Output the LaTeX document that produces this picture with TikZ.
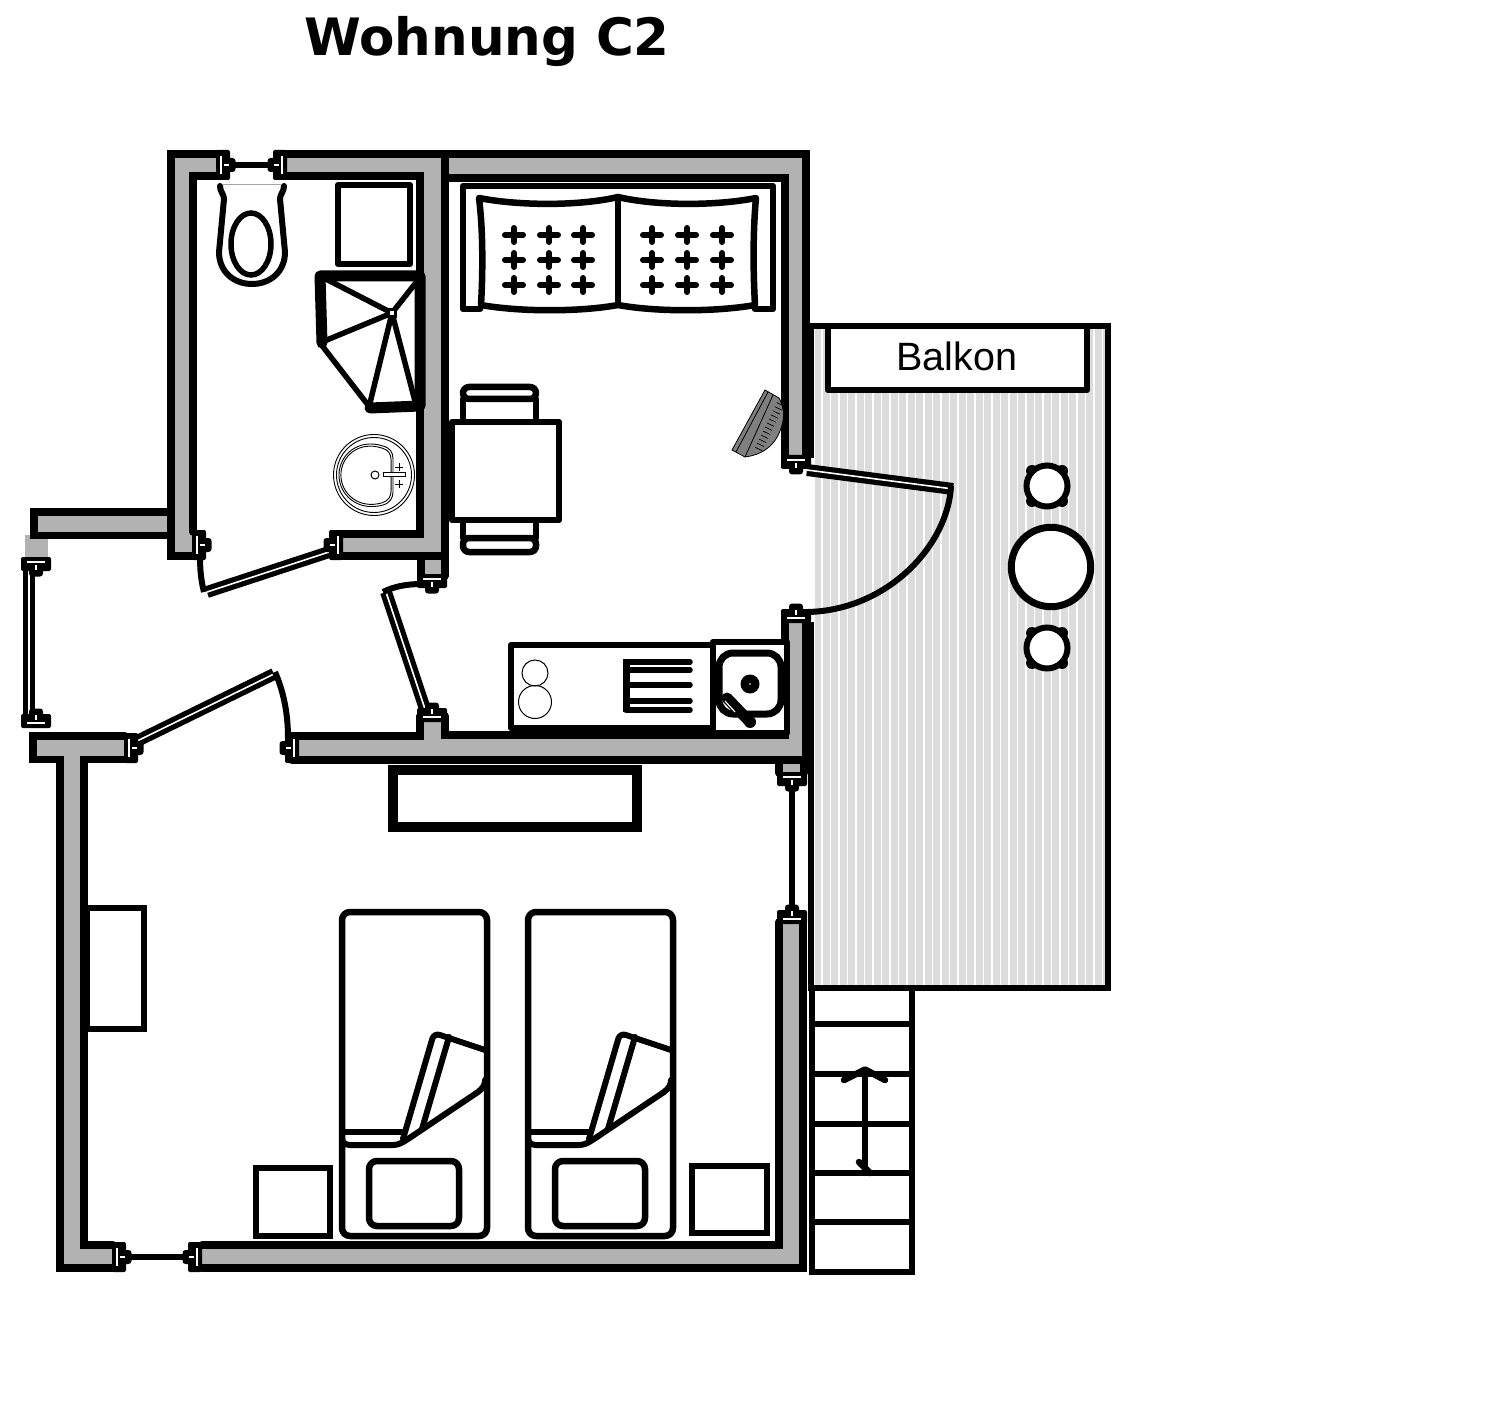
\documentclass[tikz,border=0pt]{standalone}
\usetikzlibrary{calc}
\usepackage{fontspec}
\setmainfont{Liberation Sans}
\newfontfamily\titlefont{DejaVu Sans}
\definecolor{wallgray}{HTML}{B2B2B2}
\definecolor{deckgray}{HTML}{DCDCDC}
\definecolor{heatgray}{HTML}{7F7F7F}
\tikzset{
  wall/.style={line width=7.5pt,line join=miter,line cap=round,black},
  fur/.style={line width=7pt,line join=round,line cap=round,black},
  thinl/.style={line width=0.9pt,black},
}
\newcommand{\wframe}[3]{\begin{scope}[shift={(#1,#2)},rotate=#3]
  \fill[black,rounded corners=2pt] (-15,-7) rectangle (15,7);
  \fill[white] (-9,-2.6) rectangle (9,-1);
  \fill[black,rounded corners=3pt] (-7,4) rectangle (7,12.5);
  \fill[white] (-1,1) rectangle (1,6);
\end{scope}}
\newcommand{\leaf}[4]{%
  \draw[line width=12pt,black,line cap=butt] (#1,#2) -- (#3,#4);
  \draw[line width=1.6pt,white,line cap=butt] (#1,#2) -- (#3,#4);}
\newcommand{\bedset}[1]{\begin{scope}[xshift=#1pt]
  \draw[fur,line width=6.5pt,rounded corners=8pt] (342,912) rectangle (487,1236);
  \draw[fur,line width=6.5pt,rounded corners=8pt] (369,1161) rectangle (459,1226);
  \draw[fur,line width=6pt] (342,1132) -- (402,1132);
  \draw[fur,line width=6pt] (342,1138) .. controls (342,1142) and (345,1145) .. (350,1145) -- (393,1145)
     .. controls (398,1145) and (402,1143) .. (408,1139) -- (478,1092) .. controls (483,1088) and (485,1085) .. (485,1080);
  \draw[fur,line width=6pt,rounded corners=6pt] (403,1139) -- (434,1033) -- (485,1050);
  \draw[fur,line width=6pt] (422,1129) -- (449,1037);
\end{scope}}
\newcommand{\stool}[2]{%
  \foreach \sx/\sy in {-15/-15,15/-15,-15/15,15/15}{\fill[black] (#1+\sx,#2+\sy) circle (6pt);}
  \draw[line width=6pt,fill=white] (#1,#2) circle (20.5pt);}
\newcommand{\sofaplus}[2]{%
  \draw[line width=6pt,line cap=round] (#1-9,#2) -- (#1+9,#2);
  \draw[line width=6pt,line cap=round] (#1,#2-7) -- (#1,#2+7);
  \fill (#1,#2) circle (4.5pt);}
\begin{document}
\begin{tikzpicture}[x=1pt,y=-1pt]
\useasboundingbox (0,0) rectangle (1500,1404);
\fill[white] (0,0) rectangle (1500,1404);
\node[font=\titlefont\bfseries\fontsize{51.5}{60}\selectfont,anchor=center] (title) at (487,41) {Wohnung C2};

% balcony
\fill[deckgray] (815,329) rectangle (1106,986);
\foreach \i in {0,...,33}{\draw[white,line width=1.1pt] (822+8.5*\i,329) -- (822+8.5*\i,986);}
\draw[line width=6.5pt,line join=miter] (811,458) -- (811,326) -- (1108,326) -- (1108,988) -- (811,988) -- (811,622);
\draw[fur,line width=6.5pt,fill=white] (828,326) rectangle (1087,390);
\node[font=\fontsize{39.5}{46}\selectfont] (balkon) at (957,356) {Balkon};
\draw[line width=7pt,fill=white] (1051,567) circle (39.7pt);
\stool{1047}{486}
\stool{1047}{648}

% stairs
\draw[line width=6.5pt,line join=miter] (812,988) -- (812,1272) -- (912,1272) -- (912,988);
\foreach \sy in {1024,1074,1124,1173,1222}{\draw[line width=6pt] (812,\sy) -- (912,\sy);}
\draw[line width=6.5pt,line cap=round,line join=round] (844,1080) -- (865,1069.5) -- (885,1080);
\draw[line width=6.5pt] (865,1069.5) -- (865,1170);
\draw[line width=6.5pt,line cap=round] (859,1162) -- (870,1173);

% wall fill
\fill[wallgray] (171,154) rectangle (193,556);
\fill[wallgray] (171,154) rectangle (218,177);
\fill[wallgray] (285,154) rectangle (806,177);
\fill[wallgray] (420,154) rectangle (445,556);
\fill[wallgray] (338,535) rectangle (445,556);
\fill[wallgray] (785,154) rectangle (806,458);
\fill[wallgray] (424,556) rectangle (443,576);
\fill[wallgray] (34,512) rectangle (175,535);
\fill[wallgray] (25,535) rectangle (48,560);
\fill[wallgray] (33,736) rectangle (130,760);
\fill[wallgray] (292,736) rectangle (420,760);
\fill[wallgray] (420,716) rectangle (445,760);
\fill[wallgray] (420,735) rectangle (806,760);
\fill[wallgray] (785,620) rectangle (806,760);
\fill[wallgray] (781,760) rectangle (803,773);
\fill[wallgray] (60,736) rectangle (84,1268);
\fill[wallgray] (60,1245) rectangle (115,1268);
\fill[wallgray] (195,1245) rectangle (803,1268);
\fill[wallgray] (779,918) rectangle (803,1268);

% wall lines
\draw[wall] (218,154) -- (171,154) -- (171,556) -- (193,556);
\draw[wall] (193,532) -- (193,176) -- (218,176);
\draw[wall] (285,154) -- (806,154) -- (806,458);
\draw[wall] (285,176) -- (420,176) -- (420,534) -- (338,534);
\draw[wall] (445,154) -- (445,556) -- (338,556);
\draw[wall] (445,178) -- (785,178) -- (785,458);
\draw[wall] (171,512) -- (34,512) -- (34,535.5) -- (171,535.5);
\draw[wall] (125,736) -- (33,736) -- (33,759.5) -- (60,759.5) -- (60,1268) -- (113,1268);
\draw[wall] (125,759.5) -- (84,759.5) -- (84,1245) -- (113,1245);
\draw[wall] (292,736) -- (420,736) -- (420,716);
\draw[wall] (292,760) -- (806,760) -- (806,622);
\draw[wall] (445,716) -- (445,735) -- (785,735) -- (785,622);
\draw[wall] (202,1245) -- (779,1245) -- (779,922);
\draw[wall] (202,1268) -- (803,1268) -- (803,922);
\draw[wall] (421,556) -- (421,576);
\draw[wall] (445,556) -- (445,576);
\draw[wall] (779,760) -- (779,773);
\draw[wall] (804,760) -- (804,773);

% windows
\draw[line width=5.5pt] (232,165) -- (272,165);
\wframe{223}{165}{90}
\wframe{280}{165}{-90}
\draw[line width=5.5pt] (128,1257) -- (186,1257);
\wframe{119}{1257}{90}
\wframe{195}{1257}{-90}
\draw[line width=6.5pt] (792,785) -- (792,908);
\wframe{792}{779}{0}
\wframe{792}{917}{180}
\leaf{29}{562}{29}{722}
\wframe{36}{564}{0}
\wframe{36}{721}{180}

% doors
\leaf{329}{552}{207}{592}
\draw[line width=6pt] (204,592) .. controls (201,580) and (200,570) .. (200,555);
\wframe{199}{545}{90}
\wframe{336}{545}{-90}
\leaf{386}{592}{426}{712}
\draw[line width=6pt] (383,592) .. controls (395,586) and (408,584) .. (422,584);
\wframe{432}{581}{0}
\wframe{432}{715}{180}
\leaf{133}{743}{274}{674}
\draw[line width=6pt] (275,672) .. controls (283,690) and (288,712) .. (288,738);
\wframe{131}{748}{90}
\wframe{292}{748}{-90}
\leaf{807}{470}{953}{489}
\draw[line width=6pt] (951,486) .. controls (948,545) and (888,610) .. (808,612);
\wframe{796}{462}{0}
\wframe{796}{616}{180}

% bath furniture
\draw[line width=6.5pt,line join=round] (338,185) rectangle (410,264);
\draw[line width=6pt,line join=round,line cap=round] (220,186) .. controls (220,192) and (224,194) .. (224,199) -- (219,252)
  .. controls (219,272) and (234,284) .. (252,284) .. controls (270,284) and (285,272) .. (285,252) -- (280,199) .. controls (280,194) and (284,192) .. (284,186);
\draw[line width=0.6pt,black!35] (222,184) -- (282,184);
\draw[line width=5.5pt] (251,244) ellipse (20pt and 31pt);
\draw[line width=11pt,line cap=round,line join=round] (322,343) -- (320,276) -- (420,276) -- (420,406) -- (370,408);
\draw[line width=5.5pt,line cap=round] (320,343) -- (368,405);
\foreach \ex/\ey in {322/277,418/280,322/342,370/403,416/405}{\draw[line width=5.5pt] (392,313) -- (\ex,\ey);}
\fill (387,308) rectangle (397,318);
\fill[white] (390,311) rectangle (394,315);

% washbasin
\draw[thinl,fill=white] (374,475) circle (40.5pt);
\draw[thinl] (374,475) circle (37.5pt);
\draw[thinl] (383,446) .. controls (358,438) and (339,455) .. (339,475) .. controls (339,495) and (358,512) .. (383,505) .. controls (390,503) and (393,498) .. (393,492) -- (393,459) .. controls (393,452) and (390,448) .. (383,446);
\begin{scope}[shift={(366,475)},scale=.93,shift={(-366,-475)}]
\draw[thinl] (383,446) .. controls (358,438) and (339,455) .. (339,475) .. controls (339,495) and (358,512) .. (383,505) .. controls (390,503) and (393,498) .. (393,492) -- (393,459) .. controls (393,452) and (390,448) .. (383,446);
\end{scope}
\draw[line width=1pt,fill=white] (375,475) circle (4pt);
\draw[line width=1pt,fill=white] (383,473) rectangle (405,477);
\draw[thinl] (395,467) -- (403,467) (399,463) -- (399,471);
\draw[thinl] (395,484) -- (403,484) (399,480) -- (399,488);

% sofa
\draw[fur,line width=6.5pt] (480,309) -- (463,309) -- (463,186) -- (773,186) -- (773,309) -- (755,309);
\draw[fur,line width=6.5pt,fill=white] (479,198) .. controls (520,206) and (580,206) .. (618,197) .. controls (656,206) and (716,206) .. (756,198)
   .. controls (753,230) and (753,270) .. (755,305) .. controls (716,312) and (656,312) .. (618,305) .. controls (580,312) and (520,312) .. (481,305)
   .. controls (483,270) and (483,230) .. (479,198) -- cycle;
\draw[fur,line width=6.5pt] (618,197) -- (618,305);
\foreach \px in {514,549,583,652,687,722}{\foreach \py in {235,260,285}{\sofaplus{\px}{\py}}}

% dining table
\draw[fur,line width=6.5pt,rounded corners=6pt] (463,387) rectangle (536,399);
\draw[fur,line width=6.5pt] (463,399) -- (463,422) (536,399) -- (536,422);
\draw[fur,line width=6.5pt,rounded corners=6pt] (463,538) rectangle (536,552);
\draw[fur,line width=6.5pt] (463,520) -- (463,538) (536,520) -- (536,538);
\draw[fur,line width=6.5pt,fill=white] (452,422) rectangle (559,520);

% heater
\draw[line width=0.8pt,fill=heatgray] (765,390) -- (779,398) .. controls (783,405) and (785,415) .. (782,425) .. controls (778,440) and (768,454) .. (745,457) -- (732,450) -- cycle;
\draw[line width=0.8pt] (773,395) -- (745,457);
\draw[line width=0.8pt] (768,392) -- (736,452);
\foreach \t in {0.08,0.15,...,0.9}{\draw[line width=0.7pt] ($(779,398)!\t!(751,456)$) -- ++(7,3.4);}

% kitchen
\draw[fur,line width=6.5pt,fill=white] (511,645) rectangle (713,728);
\draw[line width=1pt] (535,673) circle (13pt);
\draw[line width=1pt] (535,702) circle (16.5pt);
\draw[fur,line width=6.5pt,fill=white] (713,642) rectangle (787,733);
\draw[line width=7pt] (713,733) -- (787,733);
\draw[line width=7pt,rounded corners=14pt] (719,653) rectangle (781,714);
\fill (750,684) circle (9.5pt);
\fill[white] (750,684) circle (0.8pt);
\draw[line width=11pt,line cap=round] (727,698) -- (748,720);
\fill (750,722) circle (6pt);
\draw[white,line width=1.2pt] (725,701) -- (735,712);
\draw[line width=7pt] (626,659) -- (626,712);
\foreach \ly in {662,670,685,701,710}{\draw[line width=5.5pt,line cap=round] (626,\ly) -- (690,\ly);}

% bedroom
\draw[line width=10.5pt,line join=miter] (393,770) rectangle (637,827);
\draw[line width=5.5pt,fill=white] (87,908) rectangle (144,1029);
\bedset{0}
\bedset{186}
\draw[line width=6pt] (256,1168) rectangle (330,1236);
\draw[line width=6pt] (692,1166) rectangle (767,1233);
\end{tikzpicture}
\end{document}
